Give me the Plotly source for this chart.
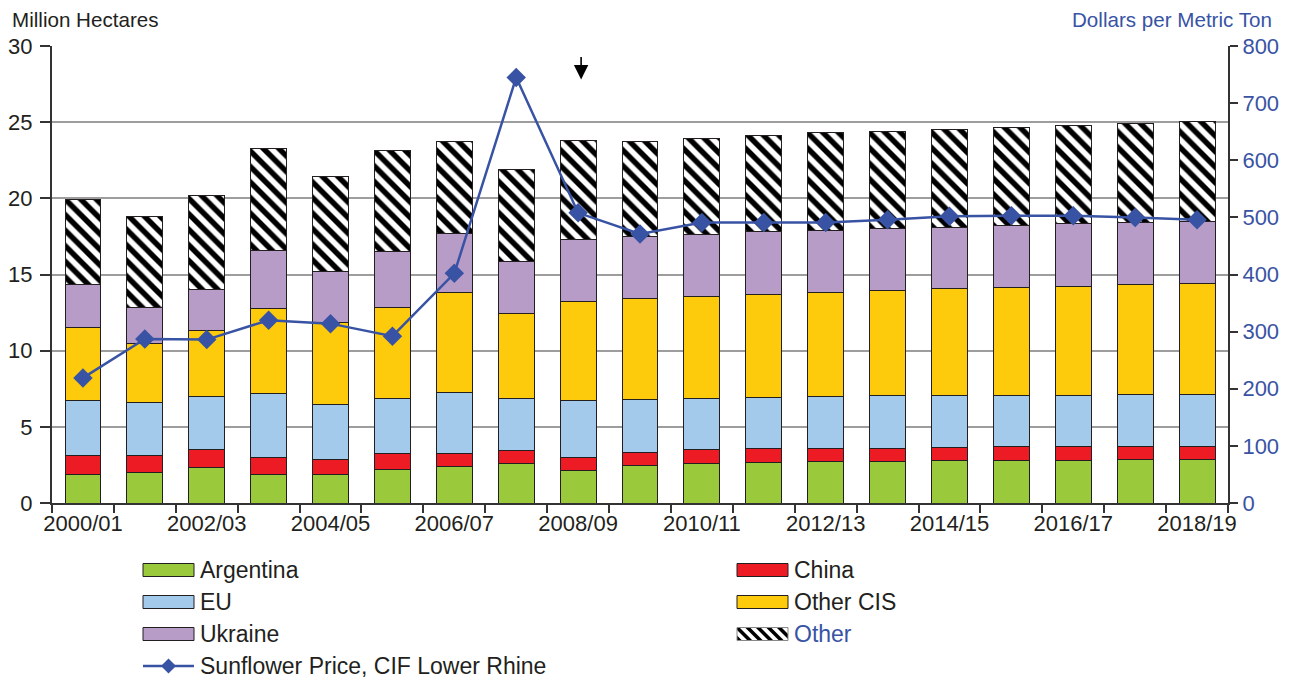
import plotly.graph_objects as go

# ---------------- data ----------------
years = ["2000/01", "2001/02", "2002/03", "2003/04", "2004/05", "2005/06", "2006/07",
         "2007/08", "2008/09", "2009/10", "2010/11", "2011/12", "2012/13", "2013/14",
         "2014/15", "2015/16", "2016/17", "2017/18", "2018/19"]
tick_labels = ["2000/01", "", "2002/03", "", "2004/05", "", "2006/07", "", "2008/09", "",
               "2010/11", "", "2012/13", "", "2014/15", "", "2016/17", "", "2018/19"]

argentina = [1.90, 2.01, 2.36, 1.84, 1.90, 2.21, 2.39, 2.60, 2.12, 2.47, 2.60, 2.67, 2.71,
             2.71, 2.76, 2.78, 2.82, 2.84, 2.87]
china = [1.25, 1.08, 1.16, 1.18, 0.97, 1.05, 0.88, 0.83, 0.86, 0.85, 0.88, 0.88, 0.88,
         0.88, 0.87, 0.90, 0.88, 0.88, 0.87]
eu = [3.55, 3.52, 3.44, 4.16, 3.61, 3.57, 3.97, 3.42, 3.72, 3.48, 3.35, 3.39, 3.39,
      3.44, 3.44, 3.39, 3.39, 3.42, 3.40]
other_cis = [4.80, 3.89, 4.38, 5.56, 5.36, 6.00, 6.57, 5.60, 6.52, 6.64, 6.74, 6.78, 6.85,
             6.93, 6.98, 7.07, 7.14, 7.19, 7.30]
ukraine = [2.86, 2.35, 2.69, 3.81, 3.37, 3.67, 3.90, 3.40, 4.09, 4.05, 4.07, 4.09, 4.09,
           4.05, 4.05, 4.07, 4.09, 4.07, 4.05]
other = [5.58, 5.99, 6.17, 6.74, 6.24, 6.65, 5.99, 6.05, 6.50, 6.23, 6.26, 6.33, 6.39,
         6.39, 6.40, 6.46, 6.48, 6.53, 6.57]
price = [219, 287, 286, 320, 314, 292, 402, 745, 508, 471, 491, 491, 491, 496, 502, 503,
         503, 500, 496]

# ---------------- style ----------------
FONT = "Liberation Sans, Arial, sans-serif"
TXT = "#231f20"
BLUE = "#3953a4"
OUTLINE = "#231f20"
C_ARG = "#9aca3c"
C_CHN = "#ed1c24"
C_EU = "#a3c9eb"
C_CIS = "#fdca0c"
C_UKR = "#b89cc8"
LEG_SIZE = 23
TITLE_SIZE = 20.6

# the page body adds an 8px offset; figure is sized to fill the rest of the window
OFF = 8
W, H = 1296 - OFF, 681 - OFF
# plot area in window pixels
L, R, T, B = 52, 1228, 46, 503


def px(xp):
    return (xp - L) / (R - L)


def py(yp):
    return (B - yp) / (B - T)


fig = go.Figure()

series = [
    ("Argentina", argentina, C_ARG),
    ("China", china, C_CHN),
    ("EU", eu, C_EU),
    ("Other CIS", other_cis, C_CIS),
    ("Ukraine", ukraine, C_UKR),
]
for name, vals, col in series:
    fig.add_trace(go.Bar(
        x=years, y=vals, name=name, showlegend=False,
        marker=dict(color=col, line=dict(color=OUTLINE, width=1)),
    ))

fig.add_trace(go.Bar(
    x=years, y=other, name="Other", showlegend=False,
    marker=dict(color="white",
                line=dict(color=OUTLINE, width=1),
                pattern=dict(shape="\\", fgcolor="black", bgcolor="white", fgopacity=1,
                             size=11, solidity=0.5, fillmode="replace")),
))

fig.add_trace(go.Scatter(
    x=years, y=price, name="Sunflower Price, CIF Lower Rhine", yaxis="y2",
    mode="lines+markers", showlegend=False,
    line=dict(color=BLUE, width=2.5),
    marker=dict(symbol="diamond", size=15, color=BLUE),
))

# ---------------- custom legend ----------------
shapes = []
annotations = []

legend_items = [
    ("Argentina", C_ARG, 143, 570, TXT),
    ("China", C_CHN, 737, 570, TXT),
    ("EU", C_EU, 143, 602, TXT),
    ("Other CIS", C_CIS, 737, 602, TXT),
    ("Ukraine", C_UKR, 143, 634, TXT),
]
SW, SH = 51, 13
for label, col, x0, yc, tcol in legend_items:
    shapes.append(dict(type="rect", xref="paper", yref="paper",
                       x0=px(x0), x1=px(x0 + SW), y0=py(yc - SH / 2), y1=py(yc + SH / 2),
                       fillcolor=col, line=dict(color=OUTLINE, width=1)))
    annotations.append(dict(text=label, xref="paper", yref="paper", x=px(x0 + SW + 4),
                            y=py(yc), xanchor="left", yanchor="middle", showarrow=False,
                            font=dict(family=FONT, size=LEG_SIZE, color=tcol)))


def clip_poly(poly, xmin, xmax, ymin, ymax):
    def clip(p, inside, inter):
        out = []
        n = len(p)
        for i in range(n):
            cur, prev = p[i], p[i - 1]
            if inside(cur):
                if not inside(prev):
                    out.append(inter(prev, cur))
                out.append(cur)
            elif inside(prev):
                out.append(inter(prev, cur))
        return out

    def ix(xc):
        return lambda a, b: (xc, a[1] + (b[1] - a[1]) * (xc - a[0]) / (b[0] - a[0]))

    def iy(yc):
        return lambda a, b: (a[0] + (b[0] - a[0]) * (yc - a[1]) / (b[1] - a[1]), yc)

    p = poly
    p = clip(p, lambda q: q[0] >= xmin, ix(xmin)) if p else p
    p = clip(p, lambda q: q[0] <= xmax, ix(xmax)) if p else p
    p = clip(p, lambda q: q[1] >= ymin, iy(ymin)) if p else p
    p = clip(p, lambda q: q[1] <= ymax, iy(ymax)) if p else p
    return p


# hatched "Other" swatch
hx0, hyc = 737, 634
hx1, hy0, hy1 = hx0 + SW, hyc - SH / 2, hyc + SH / 2
shapes.append(dict(type="rect", xref="paper", yref="paper",
                   x0=px(hx0), x1=px(hx1), y0=py(hy0), y1=py(hy1),
                   fillcolor="white", line=dict(width=0)))
period, sw = 10.5, 5.0
hh = hy1 - hy0
c = hx0 - hh - period
while c < hx1 + period:
    poly = [(c, hy0), (c + sw, hy0), (c + sw + hh, hy1), (c + hh, hy1)]
    cp = clip_poly(poly, hx0, hx1, hy0, hy1)
    if len(cp) >= 3:
        path = "M " + " L ".join(f"{px(a):.5f},{py(b):.5f}" for a, b in cp) + " Z"
        shapes.append(dict(type="path", xref="paper", yref="paper", path=path,
                           fillcolor="black", line=dict(width=0)))
    c += period
shapes.append(dict(type="rect", xref="paper", yref="paper",
                   x0=px(hx0), x1=px(hx1), y0=py(hy0), y1=py(hy1),
                   fillcolor="rgba(0,0,0,0)", line=dict(color="#888888", width=1)))
annotations.append(dict(text="Other", xref="paper", yref="paper", x=px(hx1 + 4),
                        y=py(hyc), xanchor="left", yanchor="middle", showarrow=False,
                        font=dict(family=FONT, size=LEG_SIZE, color=BLUE)))

# line legend entry
lx0, lyc = 143, 666
shapes.append(dict(type="line", xref="paper", yref="paper",
                   x0=px(lx0), x1=px(lx0 + SW), y0=py(lyc), y1=py(lyc),
                   line=dict(color=BLUE, width=2.5)))
dmx, dr = lx0 + SW / 2, 7.5
shapes.append(dict(type="path", xref="paper", yref="paper",
                   path=(f"M {px(dmx - dr):.5f},{py(lyc):.5f} L {px(dmx):.5f},{py(lyc - dr):.5f} "
                         f"L {px(dmx + dr):.5f},{py(lyc):.5f} L {px(dmx):.5f},{py(lyc + dr):.5f} Z"),
                   fillcolor=BLUE, line=dict(width=0)))
annotations.append(dict(text="Sunflower Price, CIF Lower Rhine", xref="paper", yref="paper",
                        x=px(lx0 + SW + 4), y=py(lyc), xanchor="left", yanchor="middle",
                        showarrow=False, font=dict(family=FONT, size=LEG_SIZE, color=TXT)))

# axis titles
annotations.append(dict(text="Million Hectares", xref="paper", yref="paper",
                        x=px(OFF + 2), y=py(19), xanchor="left", yanchor="middle",
                        showarrow=False, font=dict(family=FONT, size=TITLE_SIZE, color=TXT)))
annotations.append(dict(text="Dollars per Metric Ton", xref="paper", yref="paper",
                        x=px(1274), y=py(20), xanchor="right", yanchor="middle",
                        showarrow=False, font=dict(family=FONT, size=TITLE_SIZE, color=BLUE)))

# arrow above 2008/09
annotations.append(dict(text="", x="2008/09", y=27.8, xref="x", yref="y",
                        showarrow=True, ax=0, ay=-24, arrowhead=2, arrowsize=1.8,
                        arrowwidth=1.6, arrowcolor="black", xshift=3))

fig.update_layout(
    width=W, height=H,
    margin=dict(l=L - OFF, r=W - (R - OFF), t=T - OFF, b=H - (B - OFF), pad=0,
                autoexpand=False),
    paper_bgcolor="white", plot_bgcolor="white",
    barmode="stack", bargap=0.42,
    showlegend=False,
    font=dict(family=FONT, color=TXT, size=22),
    xaxis=dict(type="category", tickmode="array", tickvals=years, ticktext=tick_labels,
               range=[-0.5, len(years) - 0.5],
               tickson="boundaries", ticks="outside", ticklen=8, tickwidth=1.5,
               tickangle=0, automargin=False,
               tickcolor="#333333", showgrid=False, showline=True, linecolor="#333333",
               linewidth=2, tickfont=dict(size=22, color=TXT), zeroline=False),
    yaxis=dict(range=[0, 30], dtick=5, showgrid=True, gridcolor="#9d9d9d", gridwidth=2,
               ticks="outside", ticklen=10, tickwidth=1.5, tickcolor="#333333",
               automargin=False, ticklabelstandoff=3,
               showline=True, linecolor="#333333", linewidth=2, zeroline=False,
               tickfont=dict(size=22, color=TXT)),
    yaxis2=dict(range=[0, 800], dtick=100, overlaying="y", side="right", showgrid=False,
                ticks="outside", ticklen=8, tickwidth=1.5, tickcolor="#333333",
                automargin=False,
                showline=True, linecolor="#333333", linewidth=2, zeroline=False,
                tickfont=dict(size=22, color=BLUE)),
    shapes=shapes,
    annotations=annotations,
)

fig.write_html("out.html")
